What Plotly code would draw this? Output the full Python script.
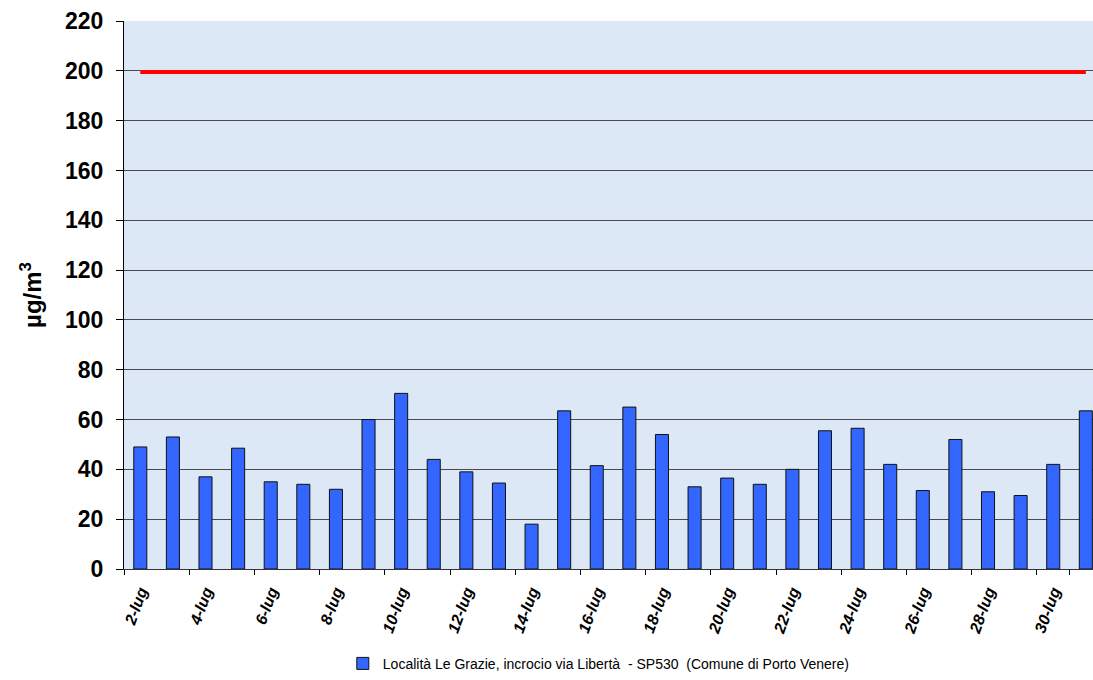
import plotly.graph_objects as go

categories = [f"{d}-lug" for d in range(2, 32)]
values = [49, 53, 37, 48.5, 35, 34, 32, 60, 70.5, 44,
          39, 34.5, 18, 63.5, 41.5, 65, 54, 33, 36.5, 34,
          40, 55.5, 56.5, 42, 31.5, 52, 31, 29.5, 42, 63.5]
limit_value = 199.5
tick_labels = categories[::2]
series_name = "Località Le Grazie, incrocio via Libertà  - SP530  (Comune di Porto Venere)"

FONT = "Liberation Sans, Arial, sans-serif"

fig = go.Figure()
fig.add_trace(go.Bar(
    x=categories, y=values, name=series_name, width=0.4,
    marker=dict(color="#3366FF", line=dict(color="#111111", width=1)),
))
fig.add_trace(go.Scatter(
    x=categories, y=[limit_value] * len(categories), mode="lines",
    line=dict(color="#FF0000", width=4), showlegend=False, hoverinfo="skip",
))

fig.update_layout(
    width=1093, height=680,
    margin=dict(l=124, r=0, t=21, b=109),
    paper_bgcolor="white",
    plot_bgcolor="#dce8f6",
    font=dict(family=FONT, color="black"),
    showlegend=True,
    legend=dict(orientation="h", x=0.49, xanchor="center", y=-0.173, yanchor="middle",
                font=dict(size=14, family=FONT, color="black"),
                itemwidth=30, bgcolor="rgba(0,0,0,0)"),
)
fig.update_xaxes(
    type="category", range=[-0.5, 29.22],
    tickmode="array", tickvals=tick_labels, ticktext=tick_labels,
    tickson="boundaries", ticks="outside", ticklen=5, tickcolor="black",
    tickangle=-70, ticklabelstandoff=6,
    tickfont=dict(size=16, family=FONT, weight="bold", style="italic", color="black"),
    showgrid=False, showline=True, linecolor="#333333", linewidth=1,
    zeroline=False,
)
fig.update_yaxes(
    range=[0, 220], dtick=20, tick0=0,
    ticks="outside", ticklen=7, tickcolor="black",
    ticklabelstandoff=8,
    tickfont=dict(size=23, family=FONT, weight="bold", color="black"),
    showgrid=True, gridcolor="#4a4a4a", gridwidth=1,
    showline=True, linecolor="black", linewidth=1,
    zeroline=False,
    title=dict(text="µg/m<sup>3</sup>", font=dict(size=24, family=FONT, weight="bold", color="black"),
               standoff=16),
)

fig.write_html("out.html", config={"displayModeBar": False},
               post_script="document.body.style.margin='0';document.body.style.overflow='hidden';")
